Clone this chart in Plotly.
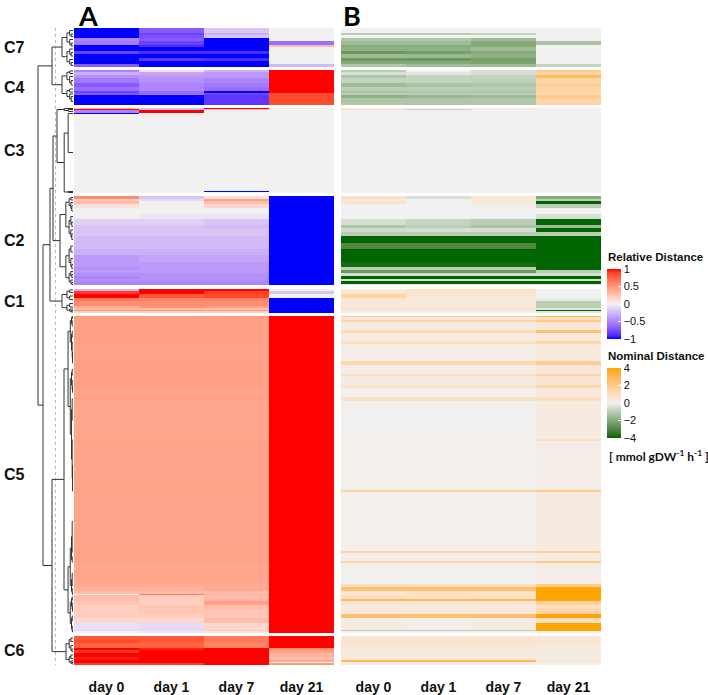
import numpy as np
import plotly.graph_objects as go

# --- chart data -------------------------------------------------------------
DAYS = ["day 0", "day 1", "day 7", "day 21"]
CLUSTERS = ["C7", "C4", "C3", "C2", "C1", "C5", "C6"]
GAP_ROWS = [3, 3, 3, 4, 3, 3]

# each cluster: row counts per band, relative distance (A), nominal distance (B)
C7_ROWS = [5, 2, 3, 3, 4, 2, 4, 3, 4, 3, 3, 3]
C7_REL = [[-1, -0.7, -0.2, 0], [-1, -0.8, -0.3, 0], [-1, -0.75, -0.2, 0],
          [-0.5, -0.7, -1, 0], [-0.55, -0.8, -1, -0.6], [-1, -0.9, -1, 0.3],
          [-1, -1, -1, 0], [-0.8, -0.9, -0.9, 0], [-1, -1, -1, 0],
          [-1, -0.85, -0.9, 0], [-1, -1, -1, 0], [-0.7, -1, -1, -0.25]]
C7_NOM = [[0, 0, 0, 0], [-1, -1, -0.8, 0], [0, 0, 0, 0],
          [-1.2, -1.2, -1.5, 0], [-1.5, -1.5, -2, -1.3], [-2, -2, -2, 0],
          [-1.8, -1.8, -1.5, 0], [-2.5, -2.3, -2, 0], [-1.5, -1.6, -1.8, 0],
          [-2.5, -2.5, -2.3, 0], [-2, -2, -2.2, 0], [-1.2, -1.5, -1.5, -0.8]]

C4_ROWS = [2, 3, 3, 5, 4, 4, 2, 2, 3, 7]
C4_REL = [[-0.5, 0.1, -0.3, 1], [-0.3, -0.35, -0.4, 1], [-0.45, -0.4, -0.4, 1],
          [-0.55, -0.45, -0.5, 1], [-0.7, -0.5, -0.55, 1], [-0.6, -0.5, -0.6, 1],
          [-0.8, -0.6, -1, 1], [-0.7, -0.6, -0.8, 0.85], [-1, -1, -0.85, 0.85],
          [-1, -1, -0.85, 0.85]]
C4_NOM = [[-1, 0, -0.5, 2], [-0.5, -0.3, -0.5, 1.5], [-1.2, -0.8, -0.8, 2.8],
          [-0.8, -0.8, -0.9, 1.5], [-1.5, -1.3, -1.2, 1.8], [-1, -1, -1, 1.5],
          [-1.3, -1.2, -1.2, 1.5], [-1, -1, -1, 1.2], [-1.8, -1.6, -1.5, 2],
          [-1.2, -1.2, -1.2, 1.5]]

C3_ROWS = [1, 1, 3, 1, 77, 1, 1]
C3_REL = [[0.3, -0.2, 1, 0], [1, -0.3, 0.3, 0], [-0.5, 1, 0, 0], [-1, 0, 0, 0],
          [0, 0, 0, 0], [0, 0, -1, 0], [0, 0, 0, 0]]
C3_NOM = [[0.3, 0, 0.5, 0], [1, -0.8, 0.3, 0], [0, 0.1, 0, 0], [0, 0, 0, 0],
          [0, 0, 0, 0], [0, 0, 0, 0], [0, 0, 0, 0]]

C2_ROWS = [3, 2, 3, 4, 6, 5, 6, 3, 4, 4, 7, 6, 6, 7, 5, 3, 3, 3, 3, 2, 3, 1]
C2_REL = [[0.55, -0.2, 0.1, -1], [0.2, -0.1, 0.45, -1], [0.3, 0, 0.3, -1],
          [0.1, 0, 0.15, -1], [0, 0, 0, -1], [0, -0.05, -0.05, -1],
          [-0.15, -0.15, -0.2, -1], [-0.2, -0.2, -0.25, -1], [-0.2, -0.2, -0.2, -1],
          [-0.2, -0.2, -0.2, -1], [-0.25, -0.25, -0.25, -1], [-0.25, -0.25, -0.25, -1],
          [-0.3, -0.3, -0.3, -1], [-0.4, -0.35, -0.35, -1], [-0.4, -0.4, -0.4, -1],
          [-0.45, -0.4, -0.4, -1], [-0.4, -0.4, -0.4, -1], [-0.45, -0.45, -0.45, -1],
          [-0.5, -0.45, -0.45, -1], [-0.45, -0.45, -0.45, -1], [-0.5, -0.5, -0.5, -1],
          [-0.5, -0.5, -0.5, -1]]
C2_NOM = [[0.8, -0.5, 0.5, -2], [0.3, 0, 0.6, -1], [0.7, 0, 0.3, -4],
          [0, 0, 0.2, -1], [0, 0, 0, 0], [0, 0, 0, -0.5],
          [-0.5, -0.8, -1, -4], [-1.2, -1, -1.3, -1.5], [-0.6, -0.5, -0.5, -4],
          [-1, -1, -1, -1], [-4, -4, -4, -4], [-3, -3, -3, -4],
          [-4, -4, -4, -4], [-4, -4, -4, -4], [-3.8, -3.8, -3.8, -4],
          [-1, -1, -1, -4], [-2.5, -2.5, -2.5, -1], [-0.5, -0.5, -0.5, -0.5],
          [-4, -4, -4, -4], [-0.5, -0.5, -0.5, -0.5], [-4, -4, -4, -4],
          [-0.3, -0.3, -0.3, -0.3]]

C1_ROWS = [2, 3, 4, 3, 5, 2, 2, 1, 2]
C1_REL = [[-0.3, 1, 1, 0], [0.9, 1, 0.9, -0.2], [1, 0.8, 0.85, 0],
          [0.65, 0.6, 0.6, -1], [0.55, 0.55, 0.55, -1], [0.4, 0.5, 0.45, -1],
          [0.3, 0.3, 0.3, -1], [0.5, 0.5, 0.5, -1], [0.2, 0.2, 0.2, -1]]
C1_NOM = [[0.3, 0.8, 0.8, 0], [0.6, 0.7, 0.7, 0], [1.5, 0.5, 0.5, 0],
          [0.5, 0.4, 0.4, -0.2], [0.4, 0.4, 0.4, -1], [0.4, 0.4, 0.4, -1],
          [0.8, 0.8, 0.8, -0.3], [0.3, 0.3, 0.3, -4], [0.1, 0.1, 0.1, -0.3]]

C5_ROWS = [1, 3, 2, 8, 3, 8, 3, 17, 4, 9, 2, 9, 3, 9, 4, 38, 2, 49, 2, 59, 2, 8, 2, 21,
           3, 4, 3, 1, 4, 2, 4, 4, 5, 4, 5, 7, 1, 2]
C5_REL = [[0.5, 0.5, 0.5, 1], [0.45, 0.45, 0.45, 1], [0.45, 0.45, 0.45, 1],
          [0.45, 0.45, 0.45, 1], [0.45, 0.45, 0.45, 1], [0.45, 0.45, 0.45, 1],
          [0.45, 0.45, 0.45, 1], [0.43, 0.43, 0.43, 1], [0.45, 0.45, 0.45, 1],
          [0.45, 0.45, 0.45, 1], [0.45, 0.45, 0.45, 1], [0.45, 0.45, 0.45, 1],
          [0.45, 0.45, 0.45, 1], [0.43, 0.43, 0.43, 1], [0.45, 0.45, 0.45, 1],
          [0.42, 0.42, 0.42, 1], [0.45, 0.45, 0.45, 1], [0.43, 0.43, 0.43, 1],
          [0.45, 0.45, 0.45, 1], [0.43, 0.43, 0.43, 1], [0.45, 0.45, 0.45, 1],
          [0.43, 0.43, 0.43, 1], [0.45, 0.45, 0.45, 1], [0.42, 0.42, 0.42, 1],
          [0.4, 0.4, 0.4, 1], [0.35, 0.35, 0.4, 1], [0.3, 0.3, 0.3, 1],
          [0, 0.65, 0.35, 1], [0.3, 0.2, 0.3, 1], [0.3, 0.2, 0.35, 1],
          [0.25, 0.2, 0.45, 1], [0.2, 0.25, 0.3, 1], [0.2, 0.25, 0.25, 1],
          [0.2, 0.2, 0.25, 1], [0.15, 0.15, 0.3, 1], [-0.08, -0.1, 0.15, 1],
          [-0.1, -0.1, 0.2, 1], [0, -0.05, 0.1, 1]]
C5_NOM = [[2, 2, 2, 3], [0.5, 0.5, 0.5, 1], [1.5, 1.5, 1.5, 2],
          [0.3, 0.3, 0.3, 0.5], [1.2, 1.2, 1.2, 2.5], [0.3, 0.3, 0.3, 0.4],
          [1, 1, 1, 1.5], [0.2, 0.2, 0.2, 0.4], [1.3, 1.3, 1.3, 1.8],
          [0.2, 0.2, 0.2, 0.5], [1, 1, 1, 1.5], [0.3, 0.3, 0.3, 0.6],
          [0.8, 0.8, 0.8, 1.3], [0.1, 0.1, 0.1, 0.4], [0.8, 0.8, 0.8, 1],
          [0.05, 0.05, 0.05, 0.3], [0.3, 0.3, 0.3, 0.9], [0.1, 0.1, 0.1, 0.2],
          [1.5, 1.5, 1.5, 2], [0.1, 0.1, 0.1, 0.3], [1.5, 1.5, 1.5, 1.8],
          [0.2, 0.2, 0.2, 0.4], [1.5, 1.5, 1.5, 2], [0.05, 0.05, 0.05, 0.2],
          [1, 1, 1, 2], [2.5, 2.5, 2.5, 4], [0.5, 1, 0.8, 4],
          [0.5, 1, 1, 4], [1, 0.8, 0.8, 4], [3, 3, 3, 4],
          [0.5, 0.5, 0.5, 1.5], [0.3, 0.3, 0.3, 1], [0.5, 0.5, 0.5, 1.5],
          [2.5, 2.5, 2.5, 4], [0.2, 0.2, 0.2, 1], [0.3, 0.1, 0.3, 4],
          [-1, -1, -1, 4], [0.1, 0.1, 0.1, 0]]

C6_ROWS = [4, 3, 5, 2, 3, 4, 3, 2, 1, 2]
C6_REL = [[0.8, 0.8, 0.65, 1], [0.85, 0.8, 0.65, 1], [0.75, 0.75, 0.6, 1],
          [1, 0.95, 1, 0.55], [0.9, 1, 1, 0.45], [1, 1, 1, 0.35],
          [0.95, 1, 1, 0.3], [1, 1, 1, 0.4], [1, 1, 1, 0], [0.9, 0.9, 1, 0.5]]
C6_NOM = [[0.6, 0.6, 0.6, 0.5], [0.7, 0.7, 0.7, 0.6], [0.5, 0.5, 0.5, 0.4],
          [0.4, 0.4, 0.4, 0.3], [0.3, 0.3, 0.3, 0.2], [0.4, 0.4, 0.4, 0.3],
          [0.5, 0.5, 0.5, 0.3], [3, 3, 3, 0.5], [0.3, 0.3, 0.3, 0.1],
          [0.2, 0.2, 0.2, 0.1]]

# dendrogram: height of each cluster's own subtree, then merges between clusters
CLUSTER_HEIGHTS = [11, 11, 16, 13, 11, 9, 7]
MERGES = [("C7", "C4", 21), ("C3", "C2", 20), ("C3+C2", "C1", 23),
          ("C5", "C6", 21), ("C3+C2+C1", "C5+C6", 30),
          ("C7+C4", "C3+C2+C1+C5+C6", 35)]
CUT_HEIGHT = 17.5

BANDS = {
    "C7": (C7_ROWS, C7_REL, C7_NOM), "C4": (C4_ROWS, C4_REL, C4_NOM),
    "C3": (C3_ROWS, C3_REL, C3_NOM), "C2": (C2_ROWS, C2_REL, C2_NOM),
    "C1": (C1_ROWS, C1_REL, C1_NOM), "C5": (C5_ROWS, C5_REL, C5_NOM),
    "C6": (C6_ROWS, C6_REL, C6_NOM),
}


# --- colour ramps interpolated in LAB like colorRamp2 -----------------------
def _hex_to_lab(h):
    rgb = np.array([int(h[i:i + 2], 16) for i in (1, 3, 5)]) / 255.0
    lin = np.where(rgb <= 0.04045, rgb / 12.92, ((rgb + 0.055) / 1.055) ** 2.4)
    m = np.array([[0.4124, 0.3576, 0.1805], [0.2126, 0.7152, 0.0722], [0.0193, 0.1192, 0.9505]])
    xyz = m @ lin / np.array([0.95047, 1.0, 1.08883])
    f = np.where(xyz > 0.008856, np.cbrt(xyz), 7.787 * xyz + 16 / 116)
    return np.array([116 * f[1] - 16, 500 * (f[0] - f[1]), 200 * (f[1] - f[2])])


def _lab_to_hex(lab):
    fy = (lab[0] + 16) / 116
    f = np.array([fy + lab[1] / 500, fy, fy - lab[2] / 200])
    xyz = np.where(f ** 3 > 0.008856, f ** 3, (f - 16 / 116) / 7.787) * np.array([0.95047, 1.0, 1.08883])
    m = np.array([[3.2406, -1.5372, -0.4986], [-0.9689, 1.8758, 0.0415], [0.0557, -0.2040, 1.0570]])
    lin = np.clip(m @ xyz, 0, 1)
    rgb = np.where(lin <= 0.0031308, 12.92 * lin, 1.055 * lin ** (1 / 2.4) - 0.055)
    return "#%02x%02x%02x" % tuple(int(round(v * 255)) for v in np.clip(rgb, 0, 1))


def lab_scale(low, mid, high, steps=10):
    scale = []
    for a, b, off in ((low, mid, 0.0), (mid, high, 0.5)):
        la, lb = _hex_to_lab(a), _hex_to_lab(b)
        for i in range(steps + 1):
            if off > 0 and i == 0:
                continue
            t = i / steps
            scale.append([off + 0.5 * t, _lab_to_hex(la + (lb - la) * t)])
    return scale


REL_SCALE = lab_scale("#0000FF", "#F1F1F1", "#FF0000")
NOM_SCALE = lab_scale("#006400", "#F1F1F1", "#FFA500")

# --- assemble rows ----------------------------------------------------------
rel_rows, nom_rows, heights, centers = [], [], [], {}
pos = 0.0
leaf_centers = {}
for k, name in enumerate(CLUSTERS):
    rows, rel, nom = BANDS[name]
    start = pos
    leaf_centers[name] = []
    for n, r, v in zip(rows, rel, nom):
        rel_rows.append(r)
        nom_rows.append(v)
        heights.append(n)
        leaf_centers[name].append(pos + n / 2)
        pos += n
    centers[name] = (start + pos) / 2
    if k < len(GAP_ROWS):
        rel_rows.append([np.nan] * 4)
        nom_rows.append([np.nan] * 4)
        heights.append(GAP_ROWS[k])
        pos += GAP_ROWS[k]
total = pos
edges = np.concatenate([[0], np.cumsum(heights)])

# --- dendrogram lines -------------------------------------------------------
dx, dy = [], []


def link(ya, ha, yb, hb, h):
    dx.extend([ha, h, h, hb, None])
    dy.extend([ya, ya, yb, yb, None])


def subtree(ys, h):
    if len(ys) == 1:
        return ys[0], 0.0
    m = len(ys) // 2
    yl, hl = subtree(ys[:m], h * 0.55)
    yr, hr = subtree(ys[m:], h * 0.55)
    link(yl, hl, yr, hr, h)
    return (yl + yr) / 2, h


nodes = {}
for name, h in zip(CLUSTERS, CLUSTER_HEIGHTS):
    nodes[name] = subtree(leaf_centers[name], h)
for a, b, h in MERGES:
    (ya, ha), (yb, hb) = nodes[a], nodes[b]
    link(ya, ha, yb, hb, h)
    nodes[a + "+" + b] = ((ya + yb) / 2, h)

# --- figure -----------------------------------------------------------------
W, H = 708, 695
px_x = lambda v: v / W
px_y = lambda v: 1 - v / H

fig = go.Figure()
fig.add_trace(go.Scatter(x=[CUT_HEIGHT, CUT_HEIGHT], y=[0, total], mode="lines",
                         line=dict(color="#bbbbbb", width=1, dash="dot"),
                         xaxis="x3", yaxis="y", hoverinfo="skip", showlegend=False))
fig.add_trace(go.Scatter(x=dx, y=dy, mode="lines", line=dict(color="#333333", width=1),
                         xaxis="x3", yaxis="y", hoverinfo="skip", showlegend=False))

cb_common = dict(xanchor="left", yanchor="top", lenmode="fraction", len=70 / H,
                 thickness=14, outlinewidth=0, ticks="inside", tickcolor="white",
                 ticklen=3, tickfont=dict(size=11, family="Liberation Sans", color="#111"),
                 xpad=0, ypad=0)
cb_title_font = dict(size=11.5, family="Liberation Sans", color="#111")

fig.add_trace(go.Heatmap(
    z=rel_rows, x=DAYS, y=edges, colorscale=REL_SCALE, zmin=-1, zmax=1,
    xaxis="x", yaxis="y", hoverongaps=False,
    colorbar=dict(x=px_x(607), y=px_y(269), tickvals=[-1, -0.5, 0, 0.5, 1], **cb_common)))
fig.add_trace(go.Heatmap(
    z=nom_rows, x=DAYS, y=edges, colorscale=NOM_SCALE, zmin=-4, zmax=4,
    xaxis="x2", yaxis="y", hoverongaps=False,
    colorbar=dict(x=px_x(607), y=px_y(368), tickvals=[-4, -2, 0, 2, 4], **cb_common)))

day_axis = dict(anchor="y", showgrid=False, zeroline=False, showline=False, ticks="",
                ticklabelstandoff=12,
                tickfont=dict(size=14, family="Liberation Sans", color="#111", weight="bold"))

annotations = [
    dict(text="<b>A</b>", x=px_x(88), y=px_y(16), xref="paper", yref="paper",
         xanchor="center", yanchor="middle", showarrow=False,
         font=dict(size=27, family="Lato", color="black")),
    dict(text="<b>B</b>", x=px_x(352), y=px_y(16), xref="paper", yref="paper",
         xanchor="center", yanchor="middle", showarrow=False,
         font=dict(size=27, family="Lato", color="black")),
    dict(text="<b>Relative Distance</b>", x=px_x(606), y=px_y(257),
         xref="paper", yref="paper", xanchor="left", yanchor="middle", showarrow=False,
         font=cb_title_font),
    dict(text="<b>Nominal Distance</b>", x=px_x(606), y=px_y(356),
         xref="paper", yref="paper", xanchor="left", yanchor="middle", showarrow=False,
         font=cb_title_font),
    dict(text="<b>[ mmol gDW<sup>-1</sup> h<sup>-1</sup> ]</b>", x=px_x(607), y=px_y(456),
         xref="paper", yref="paper", xanchor="left", yanchor="middle", showarrow=False,
         font=dict(size=12, family="Lato", color="#111")),
]
for name in CLUSTERS:
    annotations.append(dict(text="<b>%s</b>" % name, x=px_x(2), y=centers[name],
                            xref="paper", yref="y", xanchor="left", yanchor="middle",
                            showarrow=False,
                            font=dict(size=16, family="Liberation Sans", color="#111")))

fig.update_layout(
    width=W, height=H, margin=dict(l=0, r=0, t=0, b=0),
    paper_bgcolor="white", plot_bgcolor="white", showlegend=False,
    xaxis=dict(domain=[px_x(74), px_x(334)], **day_axis),
    xaxis2=dict(domain=[px_x(341), px_x(601)], **day_axis),
    xaxis3=dict(domain=[0, px_x(73)], range=[73, 0], anchor="y", visible=False),
    yaxis=dict(domain=[px_y(665), px_y(28)], range=[total, 0], visible=False),
    annotations=annotations,
)

fig.write_html("out.html", config={"displayModeBar": False},
               post_script="document.body.style.margin = '0px';")
